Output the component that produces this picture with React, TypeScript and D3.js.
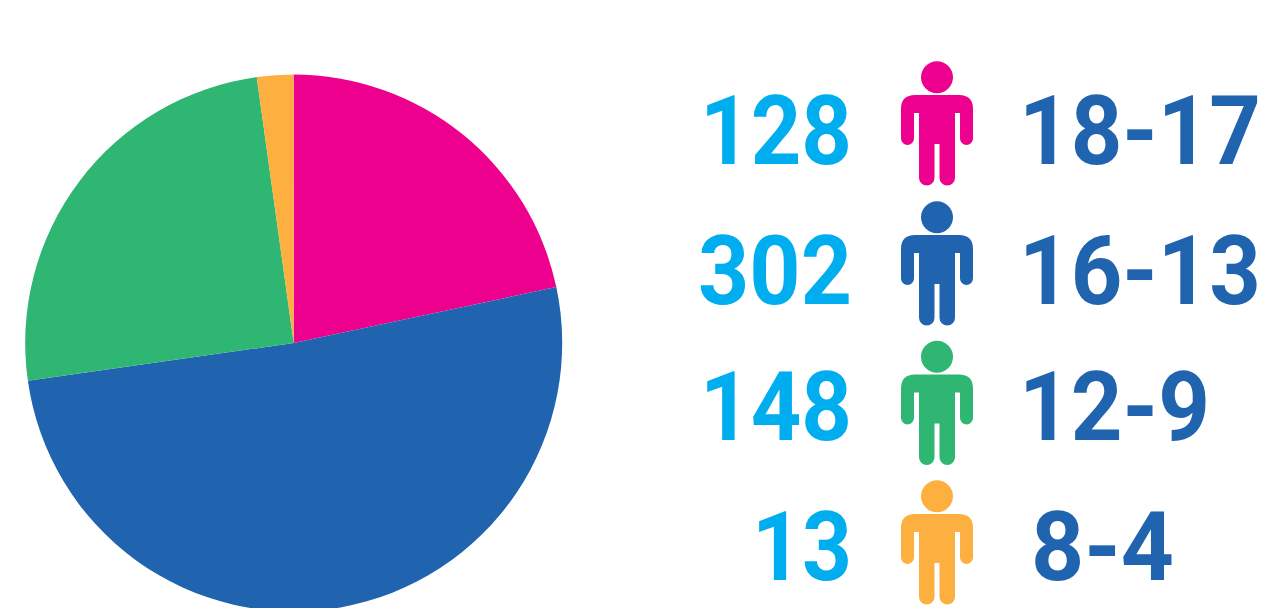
import React from "react";
import * as d3 from "d3";

const counts = [128, 302, 148, 13];
const countLabels = ["128", "302", "148", "13"];
const ageLabels = ["18-17", "16-13", "12-9", "8-4"];
const colors = ["#ee008f", "#2063ae", "#2fb673", "#fdb03f"];

const baselines = [164, 304, 440, 580];
const figureTops = [95, 235, 374.5, 514];
const ageStarts = [1019, 1019, 1019, 1031];
const countWidths = [152, 154, 152, 100];
const ageWidths = [242, 242, 191, 143];

const personPath =
  "M-22 0 H22 Q36 0 36 14 V43.5 A6.5 6.5 0 0 1 23 43.5 V18 H18 V82.8 A7.75 7.75 0 0 1 2.5 82.8 V49 H-2.5 V82.8 A7.75 7.75 0 0 1 -18 82.8 V18 H-23 V43.5 A6.5 6.5 0 0 1 -36 43.5 V14 Q-36 0 -22 0 Z";

export default function App() {
  const pie = d3.pie<number>().sort(null)(counts);
  const arc = d3.arc<d3.PieArcDatum<number>>().innerRadius(0).outerRadius(268.5);
  const font = "Roboto,sans-serif";
  return (
    <svg width={1264} height={608} style={{ position: "fixed", left: 0, top: 0 }}>
      <g transform="translate(293.7,343)">
        {pie.map((d, i) => (
          <path key={i} d={arc(d) as string} fill={colors[i]} />
        ))}
      </g>
      {counts.map((_, i) => {
        const top = figureTops[i];
        return (
          <g key={i} fontFamily={font} fontWeight={700} fontSize={97}>
            <text x={852} y={baselines[i]} textAnchor="end" fill="#00aeef" textLength={countWidths[i]} lengthAdjust="spacingAndGlyphs">{countLabels[i]}</text>
            <circle cx={937} cy={top - 17.7} r={16} fill={colors[i]} />
            <path transform={`translate(937,${top})`} d={personPath} fill={colors[i]} />
            <text x={ageStarts[i]} y={baselines[i]} fill="#2063ae" textLength={ageWidths[i]} lengthAdjust="spacingAndGlyphs">{ageLabels[i]}</text>
          </g>
        );
      })}
    </svg>
  );
}
